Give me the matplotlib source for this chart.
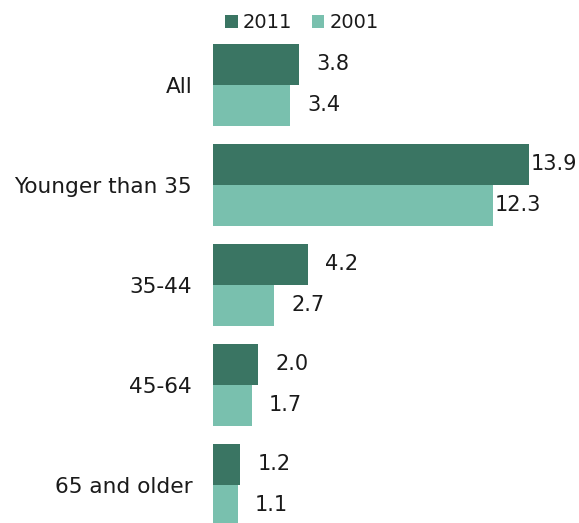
import matplotlib
matplotlib.use("Agg")
import matplotlib.pyplot as plt
from matplotlib.patches import Patch
from matplotlib.transforms import offset_copy

plt.rcParams["font.family"] = ["DejaVu Sans"]

categories = ["All", "Younger than 35", "35-44", "45-64", "65 and older"]
values_2011 = [3.8, 13.9, 4.2, 2.0, 1.2]
values_2001 = [3.4, 12.3, 2.7, 1.7, 1.1]
series_names = ["2011", "2001"]

dark = "#3a7563"
light = "#79c0ae"
text_color = "#1a1a1a"

W, H = 579, 523
fig = plt.figure(figsize=(W / 100, H / 100), dpi=100)
ax = fig.add_axes([213 / W, 0, 1 - 213 / W, (523 - 44) / H])

bar_h = 0.41
ypos = list(range(len(categories)))
ax.barh([y - bar_h / 2 for y in ypos], values_2011, height=bar_h, color=dark)
ax.barh([y + bar_h / 2 for y in ypos], values_2001, height=bar_h, color=light)

ax.set_xlim(0, 16.1)
ax.set_ylim(4.38, -0.41)

for vals, sign in ((values_2011, -1), (values_2001, 1)):
    for y, v in zip(ypos, vals):
        off = 2 if v > 10 else 17
        tr = offset_copy(ax.transData, fig=fig, x=off, y=1, units="dots")
        ax.text(v, y + sign * bar_h / 2, f"{v:.1f}", transform=tr,
                ha="left", va="center", fontsize=15, color=text_color)

ax.set_yticks(ypos)
ax.set_yticklabels(categories, fontsize=15.6, color=text_color)
ax.tick_params(axis="y", length=0, pad=15)
ax.set_xticks([])
for s in ax.spines.values():
    s.set_visible(False)

handles = [Patch(facecolor=dark, label=series_names[0]),
           Patch(facecolor=light, label=series_names[1])]
fig.legend(handles=handles, loc="center", bbox_to_anchor=(302 / W, 1 - 23 / H),
           ncol=2, frameon=False, fontsize=14, handlelength=0.65,
           handleheight=0.65, handletextpad=0.25, columnspacing=1.0,
           labelcolor=text_color)

fig.savefig("out.png", dpi=100)
